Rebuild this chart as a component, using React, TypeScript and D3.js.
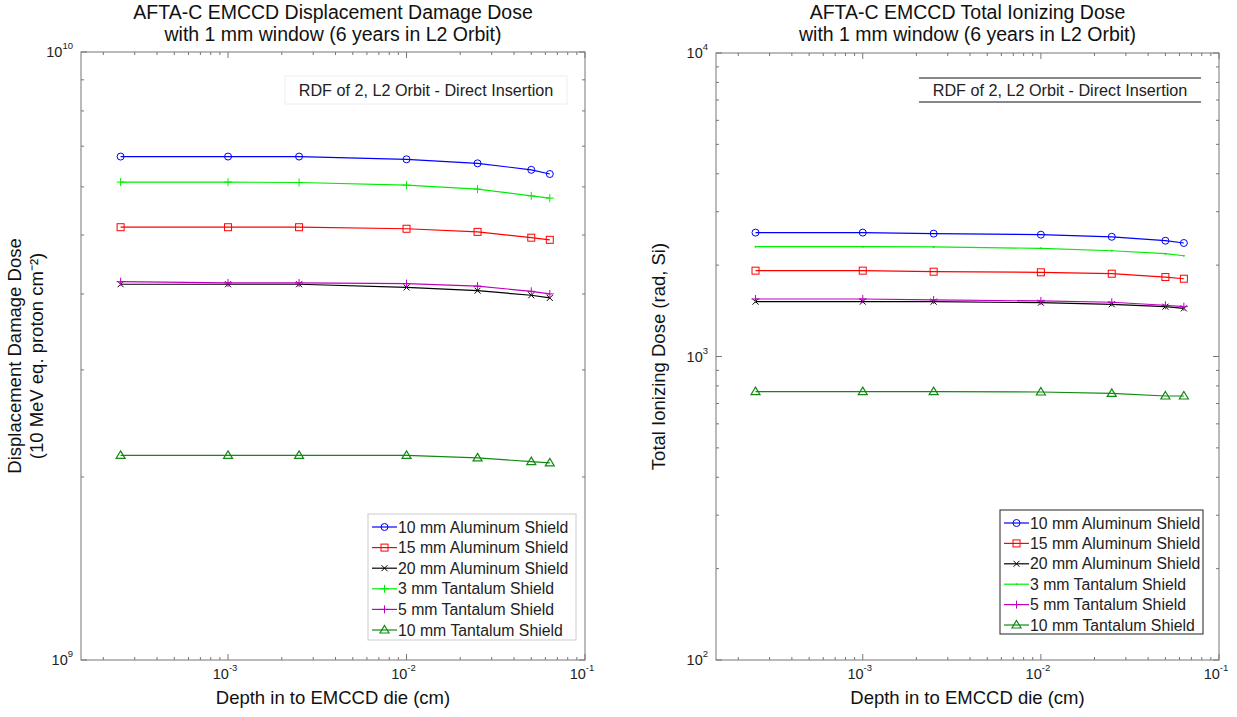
import React from 'react';
import * as d3 from 'd3';

// depth into the die (cm), shared by both panels
const depthCm = [2.5e-4, 1e-3, 2.5e-3, 1e-2, 2.5e-2, 5e-2, 6.35e-2];

// displacement damage dose (10 MeV eq. proton / cm^2)
const ddd10Al = [6.73e9, 6.73e9, 6.73e9, 6.66e9, 6.56e9, 6.40e9, 6.30e9];
const ddd15Al = [5.15e9, 5.15e9, 5.15e9, 5.12e9, 5.06e9, 4.95e9, 4.91e9];
const ddd20Al = [4.15e9, 4.15e9, 4.15e9, 4.10e9, 4.05e9, 3.98e9, 3.94e9];
const ddd3Ta = [6.11e9, 6.11e9, 6.10e9, 6.04e9, 5.95e9, 5.80e9, 5.75e9];
const ddd5Ta = [4.19e9, 4.17e9, 4.17e9, 4.16e9, 4.12e9, 4.04e9, 4.0e9];
const ddd10Ta = [2.17e9, 2.17e9, 2.17e9, 2.17e9, 2.15e9, 2.12e9, 2.11e9];

// total ionizing dose (rad, Si)
const tid10Al = [2560, 2560, 2540, 2520, 2480, 2407, 2366];
const tid15Al = [1918, 1918, 1903, 1894, 1874, 1827, 1804];
const tid20Al = [1516, 1516, 1516, 1504, 1486, 1459, 1441];
const tid3Ta = [2300, 2300, 2296, 2272, 2231, 2181, 2148];
const tid5Ta = [1547, 1547, 1536, 1524, 1509, 1475, 1459];
const tid10Ta = [766, 766, 766, 764, 756, 741, 741];

const seriesNames = [
  '10 mm Aluminum Shield',
  '15 mm Aluminum Shield',
  '20 mm Aluminum Shield',
  '3 mm Tantalum Shield',
  '5 mm Tantalum Shield',
  '10 mm Tantalum Shield',
];
const seriesColors = ['#0000ff', '#ff0000', '#000000', '#00ee00', '#c000c0', '#108a10'];
const dddMarkers = ['circle', 'square', 'x', 'plus', 'plus', 'triangle'];
const tidMarkers = ['circle', 'square', 'x', 'dot', 'plus', 'triangle'];

const xDomain = [1.5e-4, 1e-1];
const xMajor = [1e-3, 1e-2, 1e-1];

const FONT = '"Liberation Sans", Arial, sans-serif';

function Marker({ type, x, y, color }) {
  const s = 3.5;
  switch (type) {
    case 'circle':
      return <circle cx={x} cy={y} r={s} fill="none" stroke={color} strokeWidth={1} />;
    case 'square':
      return <rect x={x - s} y={y - s} width={2 * s} height={2 * s} fill="none" stroke={color} strokeWidth={1} />;
    case 'x':
      return (
        <path d={`M${x - 3},${y - 3}L${x + 3},${y + 3}M${x - 3},${y + 3}L${x + 3},${y - 3}`} stroke={color} strokeWidth={1} />
      );
    case 'plus':
      return <path d={`M${x - 4},${y}L${x + 4},${y}M${x},${y - 4}L${x},${y + 4}`} stroke={color} strokeWidth={1} />;
    case 'dot':
      return <circle cx={x} cy={y} r={1} fill={color} />;
    case 'triangle':
      return (
        <path d={`M${x},${y - 4.5}L${x + 4.5},${y + 3}L${x - 4.5},${y + 3}Z`} fill="none" stroke={color} strokeWidth={1.2} />
      );
    default:
      return null;
  }
}

function Pow10({ x, y, exp, anchor }) {
  return (
    <text x={x} y={y} textAnchor={anchor} fontSize={14.5} fill="#222" fontFamily={FONT}>
      10
      <tspan fontSize={9.5} dy={-8}>
        {exp}
      </tspan>
    </text>
  );
}

function yLabelX(left, n, i) {
  if (n === 2) return left - 60 + i * 22;
  return left - 51;
}

function Panel({ left, right, top, bottom, yDomain, yMajor, series, markers, title, yLabel, legend, rdfBoxed }) {
  const x = d3.scaleLog().domain(xDomain).range([left, right]);
  const y = d3.scaleLog().domain(yDomain).range([bottom, top]);

  const xMinor = [];
  for (let d = -4; d <= -2; d++) for (let k = 2; k <= 9; k++) {
    const v = k * Math.pow(10, d);
    if (v > xDomain[0] && v < xDomain[1]) xMinor.push(v);
  }
  const yMinor = [];
  for (let d = Math.log10(yDomain[0]); d < Math.log10(yDomain[1]); d++) for (let k = 2; k <= 9; k++) {
    yMinor.push(k * Math.pow(10, d));
  }

  const line = d3
    .line()
    .x((d) => x(d[0]))
    .y((d) => y(d[1]));

  const axisColor = '#777';
  const cx = (left + right) / 2;
  const cy = (top + bottom) / 2;

  const rdfRight = right - 18;
  const rdfLeft = rdfRight - 282;

  return (
    <g fontFamily={FONT}>
      {/* titles */}
      <text x={cx} y={19} textAnchor="middle" fontSize={19.5} fill="#111">
        {title[0]}
      </text>
      <text x={cx} y={41} textAnchor="middle" fontSize={19.5} fill="#111">
        {title[1]}
      </text>

      {/* frame */}
      <rect x={left} y={top} width={right - left} height={bottom - top} fill="none" stroke={axisColor} strokeWidth={1} />

      {/* x ticks */}
      {xMinor.map((v) => (
        <g key={'xm' + v}>
          <line x1={x(v)} x2={x(v)} y1={bottom} y2={bottom - 3} stroke={axisColor} />
          <line x1={x(v)} x2={x(v)} y1={top} y2={top + 3} stroke={axisColor} />
        </g>
      ))}
      {xMajor.map((v) => (
        <g key={'xM' + v}>
          <line x1={x(v)} x2={x(v)} y1={bottom} y2={bottom - 6} stroke={axisColor} />
          <line x1={x(v)} x2={x(v)} y1={top} y2={top + 6} stroke={axisColor} />
          <Pow10 x={x(v) - 3} y={bottom + 19} exp={String(Math.round(Math.log10(v)))} anchor="middle" />
        </g>
      ))}

      {/* y ticks */}
      {yMinor.map((v) => (
        <g key={'ym' + v}>
          <line x1={left} x2={left + 3} y1={y(v)} y2={y(v)} stroke={axisColor} />
          <line x1={right} x2={right - 3} y1={y(v)} y2={y(v)} stroke={axisColor} />
        </g>
      ))}
      {yMajor.map((v) => (
        <g key={'yM' + v}>
          <line x1={left} x2={left + 6} y1={y(v)} y2={y(v)} stroke={axisColor} />
          <line x1={right} x2={right - 6} y1={y(v)} y2={y(v)} stroke={axisColor} />
          <Pow10 x={left - 8} y={y(v) + 5} exp={String(Math.round(Math.log10(v)))} anchor="end" />
        </g>
      ))}

      {/* axis labels */}
      <text x={cx} y={bottom + 44} textAnchor="middle" fontSize={18.5} fill="#111">
        Depth in to EMCCD die (cm)
      </text>
      {yLabel.map((t, i) => (
        <text
          key={'yl' + i}
          transform={`translate(${yLabelX(left, yLabel.length, i)},${cy}) rotate(-90)`}
          textAnchor="middle"
          fontSize={18.5}
          fill="#111"
        >
          {t}
        </text>
      ))}

      {/* RDF note */}
      {rdfBoxed ? (
        <g>
          <line x1={rdfLeft} x2={rdfRight} y1={78} y2={78} stroke="#111" />
          <line x1={rdfLeft} x2={rdfRight} y1={102} y2={102} stroke="#111" />
        </g>
      ) : (
        <rect x={rdfLeft} y={76} width={rdfRight - rdfLeft} height={28} fill="#fff" stroke="#eee" />
      )}
      <text x={(rdfLeft + rdfRight) / 2} y={96} textAnchor="middle" fontSize={16.2} fill="#222">
        RDF of 2, L2 Orbit - Direct Insertion
      </text>

      {/* series */}
      {series.map((vals, si) => {
        const pts = depthCm.map((d, i) => [d, vals[i]]);
        return (
          <g key={'s' + si}>
            <path d={line(pts)} fill="none" stroke={seriesColors[si]} strokeWidth={1.2} />
            {pts.map((p, i) => (
              <Marker key={i} type={markers[si]} x={x(p[0])} y={y(p[1])} color={seriesColors[si]} />
            ))}
          </g>
        );
      })}

      {/* legend */}
      <g>
        <rect
          x={legend.x}
          y={legend.y}
          width={legend.w}
          height={legend.h}
          fill="#fff"
          stroke={legend.border}
          strokeWidth={1}
        />
        {seriesNames.map((n, i) => {
          const ly = legend.y + 13 + i * legend.step;
          return (
            <g key={n}>
              <line x1={legend.x + 4} x2={legend.x + 29} y1={ly} y2={ly} stroke={seriesColors[i]} strokeWidth={1.2} />
              <Marker type={markers[i]} x={legend.x + 16.5} y={ly} color={seriesColors[i]} />
              <text x={legend.x + 30} y={ly + 5.5} fontSize={15.8} fill="#222">
                {n}
              </text>
            </g>
          );
        })}
      </g>
    </g>
  );
}

export default function App() {
  return (
    <svg width={1237} height={717} style={{ position: 'absolute', left: 0, top: 0, background: '#fff' }}>
      <rect width={1237} height={717} fill="#fff" />
      <Panel
        left={81}
        right={585}
        top={52}
        bottom={660}
        yDomain={[1e9, 1e10]}
        yMajor={[1e9, 1e10]}
        series={[ddd10Al, ddd15Al, ddd20Al, ddd3Ta, ddd5Ta, ddd10Ta]}
        markers={dddMarkers}
        title={['AFTA-C EMCCD Displacement Damage Dose', 'with 1 mm window (6 years in L2 Orbit)']}
        yLabel={['Displacement Damage Dose', '(10 MeV eq. proton cm\u207B\u00B2)']}
        legend={{ x: 368, y: 514, w: 208, h: 126, step: 20.6, border: '#ccc' }}
        rdfBoxed={false}
      />
      <Panel
        left={716}
        right={1219}
        top={53}
        bottom={660}
        yDomain={[1e2, 1e4]}
        yMajor={[1e2, 1e3, 1e4]}
        series={[tid10Al, tid15Al, tid20Al, tid3Ta, tid5Ta, tid10Ta]}
        markers={tidMarkers}
        title={['AFTA-C EMCCD Total Ionizing Dose', 'with 1 mm window (6 years in L2 Orbit)']}
        yLabel={['Total Ionizing Dose (rad, Si)']}
        legend={{ x: 1000, y: 510, w: 203, h: 124, step: 20.4, border: '#222' }}
        rdfBoxed={true}
      />
    </svg>
  );
}
